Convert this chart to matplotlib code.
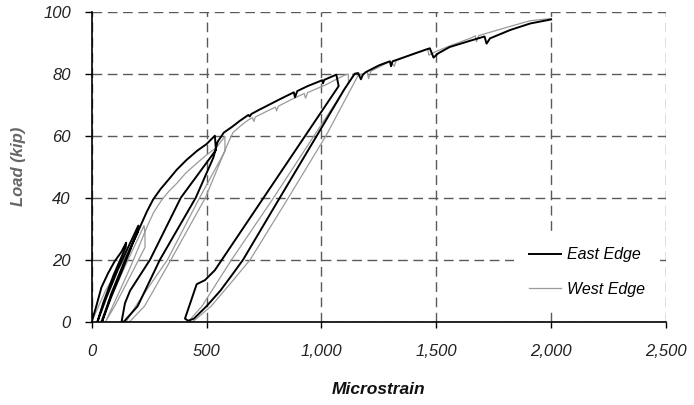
import matplotlib
matplotlib.use("Agg")
import matplotlib.pyplot as plt

# ---------------- data ----------------
east_strain = [0, 20, 42, 71, 100, 129, 150,
               148, 95, 50, 25,
               65, 115, 165, 203,
               200, 140, 85, 45,
               85, 135, 180, 210, 240, 268, 300, 333, 370, 413, 460, 500, 536,
               541, 388, 254, 167, 145, 130,
               140, 200, 297, 453, 530, 548, 575, 610, 645, 682, 688, 695, 730, 762, 820, 880, 885, 895, 940, 987, 1003, 1007, 1012, 1040, 1065,
               1075, 536, 493, 457, 406,
               420, 445, 500, 560, 610, 659, 811, 980, 1100, 1145,
               1160, 1172, 1180, 1193, 1251, 1298, 1303, 1310, 1383, 1456, 1472, 1488, 1507, 1558, 1646, 1710, 1719, 1734, 1822, 1909, 2000]
east_load = [0, 5, 11, 15.6, 19.5, 22.5, 25.5,
             24, 15, 6, 0,
             8, 17, 25, 31,
             29, 19, 9, 0,
             8, 17, 25.5, 30.5, 35.5, 39.5, 42.8, 45.7, 49, 52.2, 55.2, 57.3, 60,
             55.4, 40, 20, 10, 6, 0,
             0, 5, 20, 40, 53, 58, 61, 62.8, 64.8, 66.7, 66.2, 67, 68.4, 69.6, 71.8, 74, 72.4, 74.4, 76, 77.4, 77.9, 76.9, 78, 78.9, 79.7,
             76, 16.6, 13.4, 12.1, 1,
             0.3, 1, 5, 10, 15, 20, 39, 60, 75, 80,
             80.2, 78.2, 79.6, 80.5, 82.7, 84, 82.4, 84, 85.9, 87.8, 88.2, 85.2, 86.5, 88.6, 90.6, 92, 89.7, 91.4, 94.1, 96.2, 97.5]

west_strain = [0, 30, 60, 100, 140, 175,
               172, 120, 70, 40,
               85, 140, 190, 228,
               232, 232, 170, 100, 60,
               110, 165, 210, 240, 270, 304, 335, 370, 410, 457, 500, 543, 580,
               580, 470, 330, 200, 150,
               165, 230, 345, 495, 590, 615, 650, 682, 700, 706, 712, 760, 800, 805, 812, 870, 925, 931, 940, 980, 1016, 1060, 1100, 1117,
               1118, 783, 609, 480, 420,
               440, 520, 600, 690, 848, 1020, 1160, 1200, 1205, 1215, 1300, 1317, 1325, 1400, 1462, 1468, 1480, 1500,
               1560, 1650, 1670, 1675, 1685, 1800, 1909, 2000]
west_load = [0, 5, 10, 15, 20, 25,
             23.5, 15, 6, 0,
             8, 17, 25, 31,
             28, 24, 15, 5, 0,
             8, 17, 25, 30.5, 35.3, 39.2, 42, 44.6, 48, 51.1, 53.8, 56.2, 59.8,
             55, 40, 20, 6, 0,
             0, 5, 20, 40, 57, 61, 63.3, 65.1, 65.8, 64.6, 66, 67.8, 69.2, 68, 69.5, 71.7, 73.6, 72.1, 73.9, 75.2, 76.3, 78, 79.5, 79.9,
             77, 39, 20, 5, 0,
             0, 5, 12, 20, 39, 60, 79.5, 80.5, 78.4, 80.8, 84, 82.4, 84.2, 86.5, 88, 86, 86.5, 87.2,
             89, 91.5, 92.2, 90.3, 92.3, 94.8, 97.1, 97.8]

x_ticks = [0, 500, 1000, 1500, 2000, 2500]
x_tick_labels = ['0', '500', '1,000', '1,500', '2,000', '2,500']
y_ticks = [0, 20, 40, 60, 80, 100]
y_tick_labels = ['0', '20', '40', '60', '80', '100']
series_names = ['East Edge', 'West Edge']

# ---------------- plot ----------------
plt.rcParams['font.family'] = ['Liberation Sans', 'DejaVu Sans']

fig = plt.figure(figsize=(6.94, 4.05), dpi=100)
ax = fig.add_axes([91.7/694, 1-321.7/405, (666-91.7)/694, (321.7-11.7)/405])

ax.set_xlim(0, 2500)
ax.set_ylim(0, 100)

grid_kw = dict(color='#5a5a5a', linewidth=1.0, linestyle=(0, (7, 4)))
ax.set_xticks(x_ticks)
ax.set_yticks(y_ticks)
ax.grid(True, **grid_kw)
ax.set_axisbelow(True)

lw, = ax.plot(west_strain, west_load, color='#9a9a9a', linewidth=0.9, zorder=3)
le, = ax.plot(east_strain, east_load, color='black', linewidth=1.4, zorder=4)

ax.set_xticklabels(x_tick_labels, fontsize=12, fontstyle='italic', color='#222222')
ax.set_yticklabels(y_tick_labels, fontsize=12, fontstyle='italic', color='#222222')
ax.tick_params(axis='x', direction='out', length=4, width=1, pad=12)
ax.tick_params(axis='y', direction='out', length=5, width=1, pad=10)

for s in ['top', 'right']:
    ax.spines[s].set_visible(False)
for s in ['left', 'bottom']:
    ax.spines[s].set_linewidth(1.2)
    ax.spines[s].set_zorder(5)

ax.set_xlabel('Microstrain', fontsize=12.5, fontweight='bold', fontstyle='italic', color='#111111')
ax.xaxis.set_label_coords(0.5, -0.195)
ax.set_ylabel('Load (kip)', fontsize=12, fontweight='bold', fontstyle='italic', color='#666666')
ax.yaxis.set_label_coords(-0.115, 0.5)

leg = ax.legend(handles=[le, lw], labels=series_names, loc='center',
                bbox_to_anchor=(0.862, 0.16), frameon=True, fancybox=False,
                facecolor='white', edgecolor='none', framealpha=1,
                prop=dict(family='Liberation Sans', style='italic', size=11.5),
                handlelength=2.0, handletextpad=0.35, labelspacing=1.25,
                borderpad=0.95, borderaxespad=0)
leg.set_zorder(6)

fig.savefig('out.png', dpi=100)
